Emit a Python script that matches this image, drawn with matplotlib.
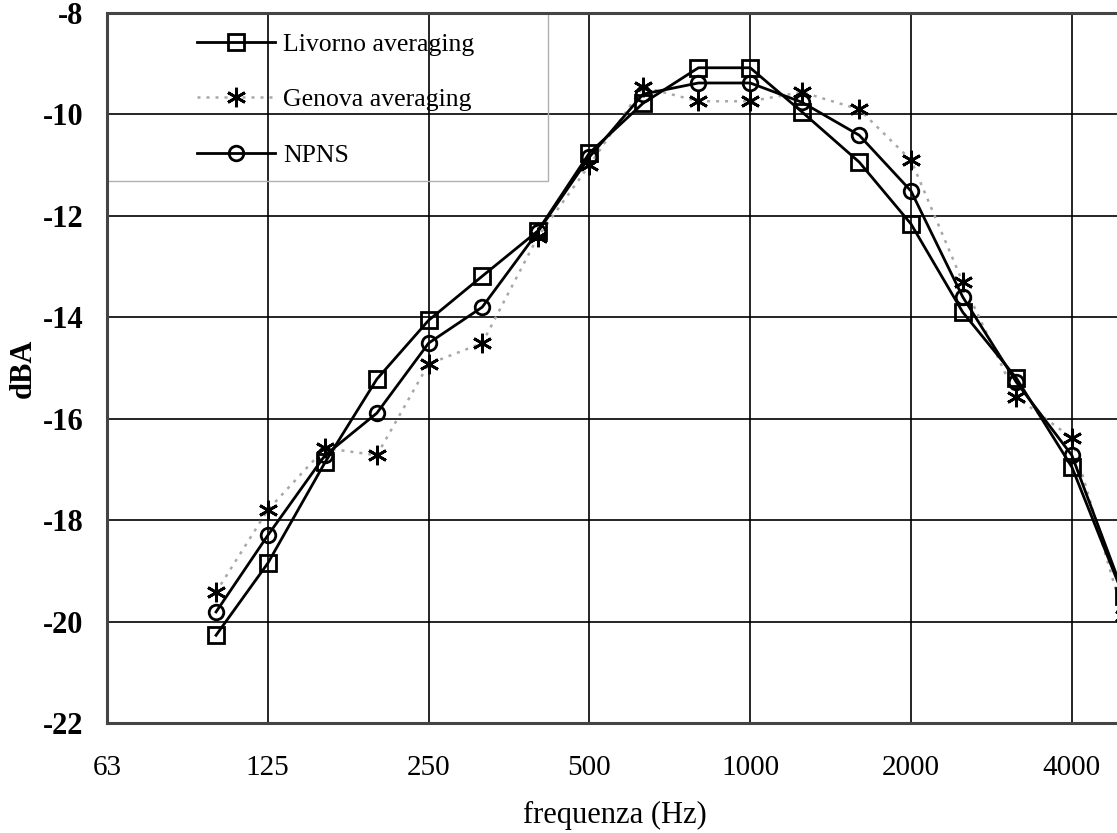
import matplotlib
matplotlib.use("Agg")
import matplotlib.pyplot as plt
from matplotlib.patches import Rectangle
from matplotlib.ticker import NullLocator

plt.rcParams['font.family'] = ['Liberation Serif', 'DejaVu Serif']

# third octave bands (Hz)
freqs = [100, 125, 160, 200, 250, 315, 400, 500, 630, 800,
         1000, 1250, 1600, 2000, 2500, 3150, 4000, 5000]

livorno = [-20.27, -18.85, -16.86, -15.22, -14.06, -13.19, -12.30, -10.76, -9.78,
           -9.08, -9.08, -9.95, -10.94, -12.16, -13.90, -15.20, -16.95, -19.5]
genova = [-19.42, -17.80, -16.58, -16.72, -14.92, -14.51, -12.42, -11.00, -9.46,
          -9.74, -9.74, -9.56, -9.90, -10.90, -13.31, -15.57, -16.38, -19.9]
npns = [-19.81, -18.30, -16.72, -15.89, -14.51, -13.80, -12.32, -10.84, -9.60,
        -9.38, -9.38, -9.76, -10.41, -11.51, -13.60, -15.28, -16.72, -19.45]

oct_ticks = [62.5, 125, 250, 500, 1000, 2000, 4000]
oct_labels = ['63', '125', '250', '500', '1000', '2000', '4000']
y_ticks = [-22, -20, -18, -16, -14, -12, -10, -8]

W, H = 1117, 833
fig = plt.figure(figsize=(W / 100, H / 100), dpi=100)
# axes runs past the right edge of the picture, like the cropped original
ax = fig.add_axes([107 / W, 110 / H, 1125.6 / W, 710 / H])

ax.plot(freqs, genova, color='#a8a8a8', lw=1.8, dashes=(1.2, 2.4),
        marker=(6, 2, 0), ms=14, mec='black', mew=2.0, label='Genova averaging', zorder=3)
ax.plot(freqs, livorno, color='black', lw=2.0, marker='s', ms=12, mfc='none',
        mec='black', mew=2.0, label='Livorno averaging', zorder=4)
ax.plot(freqs, npns, color='black', lw=2.0, marker='o', ms=10.5, mfc='none',
        mec='black', mew=2.0, label='NPNS', zorder=4)

ax.set_xscale('log', base=2)
ax.set_xlim(62.5, 8000)
ax.set_ylim(-22, -8)
ax.set_xticks(oct_ticks)
ax.set_xticklabels(oct_labels)
ax.xaxis.set_minor_locator(NullLocator())
ax.set_yticks(y_ticks)
ax.set_yticklabels([str(v) for v in y_ticks], fontweight='bold')
ax.tick_params(axis='x', length=0, pad=23, labelsize=21)
ax.tick_params(axis='y', length=0, pad=17, labelsize=22)
ax.grid(True, color='black', lw=1.2)
ax.set_axisbelow(True)
for s in ax.spines.values():
    s.set_color('#444444')
    s.set_linewidth(2.2)

ax.set_xlabel('frequenza (Hz)', fontsize=22, va='center')
ax.xaxis.set_label_coords(0.451, -0.1296)
ax.set_ylabel('dBA', fontsize=22, fontweight='bold', va='center')
ax.yaxis.set_label_coords(-0.074, 0.5)

# legend frame drawn by hand: thin grey box, transparent inside
ax.add_patch(Rectangle((0, 0.7634), 0.3918, 0.2366, transform=ax.transAxes,
                       fill=False, edgecolor='#b0b0b0', lw=1.0, zorder=2))
h, l = ax.get_legend_handles_labels()
order = [1, 0, 2]
ax.legend([h[i] for i in order], [l[i] for i in order], loc='upper left',
          bbox_to_anchor=(0.08, 0.972), frameon=False, handlelength=3.05,
          handletextpad=0.3, labelspacing=1.26, borderpad=0, borderaxespad=0,
          numpoints=1, prop={'size': 18.5})

fig.savefig('out.png', dpi=100)
